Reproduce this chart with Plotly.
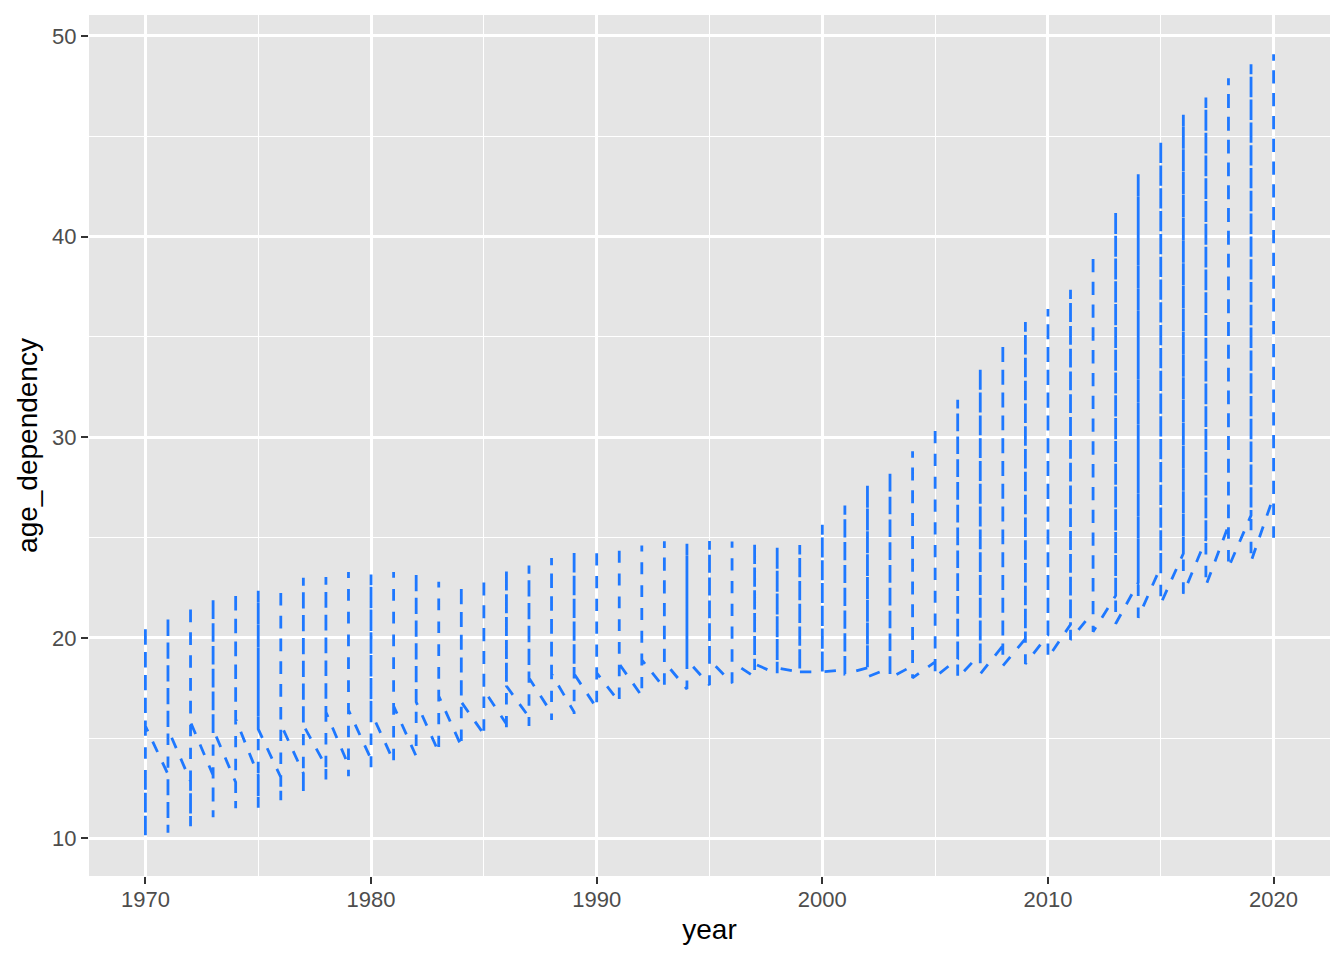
import plotly.graph_objects as go

years = list(range(1970, 2021))

# values in path order within each year: canada -> japan -> uk -> us
canada = [13.0, 13.2, 12.85, 13.15, 12.8, 13.15, 13.05, 13.25, 13.6, 13.65,
          13.95, 13.85, 14.1, 14.3, 14.6, 15.2, 15.7, 16.05, 16.25, 16.3,
          16.5, 16.8, 17.1, 17.5, 17.45, 17.65, 17.75, 18.05, 18.2, 18.3,
          18.3, 18.4, 18.5, 18.5, 18.6, 18.8, 18.95, 19.2, 19.6, 19.95,
          20.15, 20.66, 21.3, 22.1, 22.75, 23.55, 24.2, 24.9, 25.6, 26.1,
          27.05]
japan = [10.08, 10.28, 10.61, 11.06, 11.5, 11.53, 11.91, 12.28, 12.94, 13.1,
         13.55, 13.8, 14.1, 14.3, 14.55, 15.1, 15.3, 15.6, 15.9, 16.2,
         17.2, 17.8, 18.4, 19.1, 19.8, 20.6, 21.4, 22.2, 23.0, 23.9,
         25.64, 26.59, 27.6, 28.3, 29.3, 30.57, 31.87, 33.43, 34.69, 35.74,
         36.39, 37.35, 39.12, 41.22, 43.11, 44.74, 46.07, 46.93, 47.89, 48.59,
         49.09]
uk = [20.61, 21.07, 21.66, 21.97, 22.29, 22.35, 22.49, 23.0, 23.03, 23.28,
      23.15, 23.28, 23.3, 22.8, 22.62, 23.0, 23.4, 23.6, 23.98, 24.31,
      24.48, 24.61, 24.6, 24.81, 24.69, 24.83, 24.8, 24.73, 24.53, 24.63,
      24.3, 24.3, 24.4, 24.5, 24.6, 24.6, 24.7, 24.8, 25.0, 25.3,
      25.6, 26.0, 26.6, 27.2, 27.7, 28.1, 28.4, 28.6, 28.8, 29.0,
      29.3]
us = [15.6, 15.45, 15.8, 15.45, 15.95, 15.45, 15.7, 15.65, 16.3, 16.4,
      16.3, 16.6, 16.8, 17.1, 16.8, 17.4, 17.6, 18.0, 18.2, 18.2,
      18.25, 18.7, 18.9, 18.8, 18.9, 18.9, 18.8, 18.7, 18.5, 18.3,
      18.3, 18.2, 18.05, 18.0, 18.0, 18.05, 18.0, 18.2, 18.6, 18.7,
      19.0, 19.9, 20.3, 20.7, 21.0, 21.7, 22.2, 22.6, 23.5, 23.8,
      24.6]

x_ticks = [1970, 1980, 1990, 2000, 2010, 2020]
y_ticks = [10, 20, 30, 40, 50]

# build the single path (data sorted by year, ties kept in country order)
px, py = [], []
for i, yr in enumerate(years):
    for series in (canada, japan, uk, us):
        px.append(yr)
        py.append(series[i])

xmin, xmax = min(years), max(years)
ymin, ymax = min(py), max(py)
xpad = (xmax - xmin) * 0.05
ypad = (ymax - ymin) * 0.05

fig = go.Figure(go.Scatter(
    x=px, y=py, mode="lines",
    line=dict(color="#1E78FF", width=2.8, dash="11.4px,11.4px"),
    hoverinfo="x+y", showlegend=False,
))

font_family = "Liberation Sans, Arial, sans-serif"
fig.update_layout(
    width=1344, height=960,
    paper_bgcolor="white", plot_bgcolor="#E5E5E5",
    margin=dict(l=81, r=22, t=7, b=92),
    font=dict(family=font_family, color="#4D4D4D", size=22),
)
fig.update_xaxes(
    range=[xmin - xpad, xmax + xpad], automargin=False,
    tickvals=x_ticks, ticktext=[str(v) for v in x_ticks],
    showgrid=True, gridcolor="white", gridwidth=2.6,
    minor=dict(dtick=5, tick0=1965, showgrid=True, gridcolor="white", gridwidth=1.3, ticks=""),
    zeroline=False, showline=False,
    ticks="outside", ticklen=7, tickwidth=2.4, tickcolor="#333333",
    ticklabelstandoff=-3,
    tickfont=dict(size=22, color="#4D4D4D"),
    title=dict(text="year", font=dict(size=28, color="black"), standoff=7),
)
fig.update_yaxes(
    range=[ymin - ypad, ymax + ypad], automargin=False,
    tickvals=y_ticks, ticktext=[str(v) for v in y_ticks],
    showgrid=True, gridcolor="white", gridwidth=2.6,
    minor=dict(dtick=5, tick0=5, showgrid=True, gridcolor="white", gridwidth=1.3, ticks=""),
    zeroline=False, showline=False,
    ticks="outside", ticklen=7, tickwidth=2.4, tickcolor="#333333",
    tickfont=dict(size=22, color="#4D4D4D"),
    title=dict(text="age_dependency", font=dict(size=28, color="black"), standoff=6),
)

fig.write_html("out.html")
